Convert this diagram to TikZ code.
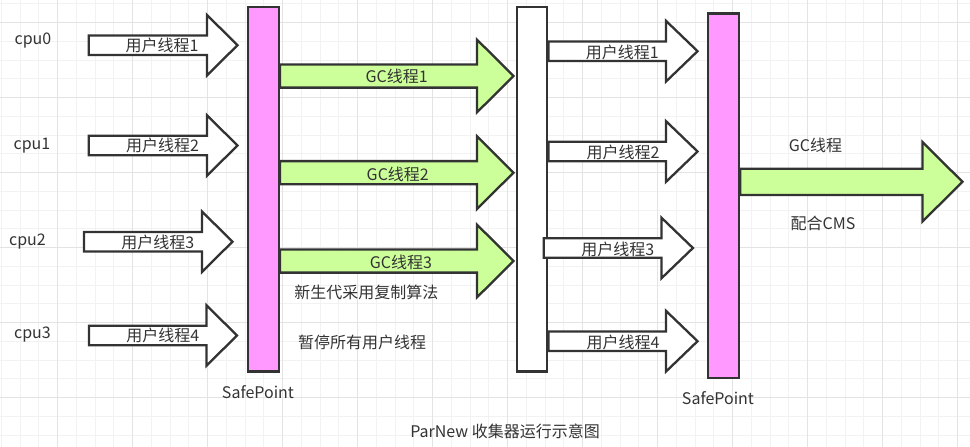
\documentclass[tikz,border=0pt]{standalone}
\usepackage{fontspec}
\setmainfont{Noto Sans CJK SC}
\definecolor{sppink}{HTML}{FF99FF}
\definecolor{gcgreen}{HTML}{CCFF99}
\definecolor{ink}{HTML}{333333}
\definecolor{gridminor}{HTML}{F2F2F2}
\definecolor{gridmajor}{HTML}{E3E3E3}
\tikzset{
  bar/.style={draw=ink, line width=2.3pt, inner sep=0pt},
  arrowbox/.style={draw=ink, line width=2.3pt, line join=miter},
  lbl/.style={text=ink, font=\fontsize{16}{19}\selectfont, inner sep=0pt},
}
% fill, start, y, length, shaft half, head half, head length
\newcommand{\fatarrow}[7]{%
  \draw[arrowbox, fill=#1] (#2 |- 0,#3) ++(0,-#5) -- ++({#4-#7},0) -- ++(0,{#5-#6})
    -- ++(#7,#6) -- ++(-#7,#6) -- ++(0,{#5-#6}) -- ++({-(#4-#7)},0) -- cycle;}

\begin{document}
\begin{tikzpicture}[x=1pt, y=-1pt]
\useasboundingbox (0,0) rectangle (970,447);
% grid
\foreach \i in {0,...,51} \draw[gridminor, line width=1pt] ({1.25+18.75*\i},0) -- ++(0,447);
\foreach \i in {0,...,23} \draw[gridminor, line width=1pt] (0,{3.95+18.75*\i}) -- ++(970,0);
\foreach \i in {0,...,12} \draw[gridmajor, line width=1pt] ({57.5+75*\i},0) -- ++(0,447);
\foreach \i in {0,...,5} \draw[gridmajor, line width=1pt] (0,{22.7+75*\i}) -- ++(970,0);

% bars
\node[bar, fill=sppink, minimum width=31pt, minimum height=364.4pt] (sp1) at (263.3,189.3){};
\node[bar, fill=white, minimum width=30pt, minimum height=364.4pt] (wb) at (532.2,189.3){};
\node[bar, fill=sppink, minimum width=31.5pt, minimum height=364.7pt] (sp2) at (723.4,195.8){};

% cpu side
\node[lbl] (cpu0) at (33,41){cpu0};
\node[lbl] (cpu1) at (32,146){cpu1};
\node[lbl] (cpu2) at (27.5,241.7){cpu2};
\node[lbl] (cpu3) at (32.5,335){cpu3};

\coordinate (u1) at (88.7,45.2);
\coordinate (u2) at (88.7,145.5);
\coordinate (u3) at (83.9,241.7);
\coordinate (u4) at (88.9,335.5);

\fatarrow{white}{u1}{45.2}{148.8}{9.7}{30.2}{30.5}
\fatarrow{white}{u2}{145.5}{148.8}{9.7}{30.2}{30.5}
\fatarrow{white}{u3}{241.7}{148.6}{9.7}{30.2}{30.5}
\fatarrow{white}{u4}{335.5}{148.1}{9.7}{30.2}{30.5}

\node[lbl] (u1t) at (162,45){用户线程1};
\node[lbl] (u2t) at (162.5,145.7){用户线程2};
\node[lbl] (u3t) at (157.7,242.7){用户线程3};
\node[lbl] (u4t) at (162.9,335.7){用户线程4};

% GC threads
\fatarrow{gcgreen}{sp1.east}{76}{233.5}{11.6}{36.4}{36.5}
\fatarrow{gcgreen}{sp1.east}{172.7}{233.5}{11.6}{36.4}{36.5}
\fatarrow{gcgreen}{sp1.east}{261}{233.5}{11.6}{36.4}{36.5}

\node[lbl] (g1t) at (396.7,76.7){GC线程1};
\node[lbl] (g2t) at (397.8,174){GC线程2};
\node[lbl] (g3t) at (401,262.3){GC线程3};

\node[lbl] (newgen) at (366.4,292.7){新生代采用复制算法};
\node[lbl] (pause) at (362,342.7){暂停所有用户线程};
\node[lbl] (sp1t) at (258,392.3){SafePoint};

% user threads again
\fatarrow{white}{wb.east}{51.2}{149.2}{9.7}{30.3}{31.5}
\fatarrow{white}{wb.east}{151.5}{149.2}{9.7}{30.3}{31.5}
\fatarrow{white}{[xshift=-4.7pt]wb.east}{248}{149.3}{9.7}{30.3}{31.5}
\fatarrow{white}{wb.east}{341.2}{149.2}{9.7}{30.3}{31.5}

\node[lbl] (r1t) at (622.2,52.7){用户线程1};
\node[lbl] (r2t) at (623,152.3){用户线程2};
\node[lbl] (r3t) at (617.7,249){用户线程3};
\node[lbl] (r4t) at (623,342.7){用户线程4};

% CMS
\fatarrow{gcgreen}{sp2.east}{181.8}{222.2}{13.1}{39.7}{40}
\node[lbl] (cmsgc) at (815.5,145.7){GC线程};
\node[lbl] (cms) at (823,223.3){配合CMS};
\node[lbl] (sp2t) at (718,398.3){SafePoint};

\node[lbl] (title) at (505,431.7){ParNew 收集器运行示意图};
\end{tikzpicture}
\end{document}
